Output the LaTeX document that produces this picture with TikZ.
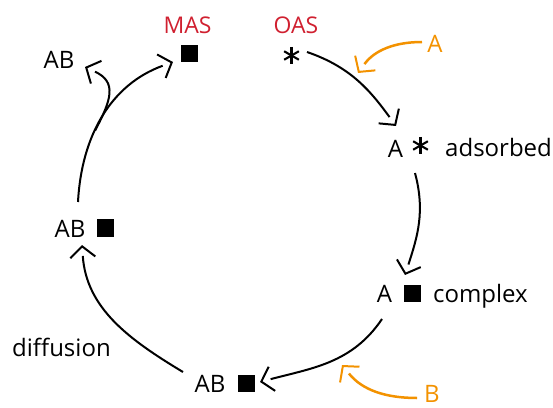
\documentclass[tikz,border=0pt]{standalone}
\usepackage{fontspec}
\setmainfont{Open Sans}
\usetikzlibrary{arrows.meta,decorations.markings}
\definecolor{casred}{RGB}{208,32,48}
\definecolor{casorange}{RGB}{243,146,0}
\tikzset{
  txt/.style={inner sep=0pt, font=\fontsize{24}{28}\selectfont},
  redtxt/.style={txt, text=casred, font=\fontsize{23}{28}\selectfont},
  ortxt/.style={txt, text=casorange},
  sq/.style={fill=black, minimum size=17pt, inner sep=0pt},
  astk/.style={minimum size=19pt, inner sep=0pt, path picture={
      \draw[line width=2.1pt] (path picture bounding box.center) ++(90:8.5pt) -- ++(270:17pt);
      \draw[line width=2.1pt] (path picture bounding box.center) ++(30:8.5pt) -- ++(210:17pt);
      \draw[line width=2.1pt] (path picture bounding box.center) ++(150:8.5pt) -- ++(330:17pt);}},
  conn/.style={line width=2pt, draw=#1, shorten >=11pt, postaction={decorate},
    decoration={markings, mark=at position 0.9999 with {\arrow[#1, line width=2pt]{Straight Barb[length=11pt,width=25pt]}}}},
  conn/.default=black,
  oconn/.style={conn=casorange, line width=2.5pt},
}
\begin{document}
\begin{tikzpicture}[x=1pt,y=1pt]
\useasboundingbox (0,0) rectangle (553,407);
% labels
\node[redtxt] (masT) at (187.5,381.5) {MAS};
\node[redtxt] (oasT) at (296,381.5) {OAS};
\node[sq] (masSq) at (189.5,353) {};
\node[astk] (oasSt) at (291.5,351.5) {};
\node[txt] (abTop) at (59,347) {AB};
\node[txt] (aAds) at (395.5,258.5) {A};
\node[astk] (stAds) at (420.5,261.5) {};
\node[txt, anchor=base west] (ads) at (445,250) {adsorbed};
\node[txt] (aCx) at (384.5,113.5) {A};
\node[sq] (sqCx) at (412,113.5) {};
\node[txt, anchor=base west] (cx) at (433,105) {complex};
\node[txt] (abBot) at (210,23.5) {AB};
\node[sq] (sqBot) at (246,23.5) {};
\node[txt] (abLeft) at (70,178.5) {AB};
\node[sq] (sqLeft) at (105,179) {};
\node[txt, anchor=base west] (diff) at (12,51) {diffusion};
\node[ortxt] (oA) at (435,363) {A};
\node[ortxt] (oB) at (432,13) {B};
% connector ends
\coordinate (s1) at (307,355);
\coordinate (e1) at (396,281);
\coordinate (s2) at (415,234);
\coordinate (e2) at (405,132);
\coordinate (s3) at (382,88);
\coordinate (e3) at (260,25);
\coordinate (s4) at (183,35);
\coordinate (e4) at (82,162);
\coordinate (s5) at (78,205);
\coordinate (e5) at (173,345);
\coordinate (e6) at (85,340);
\coordinate (s7) at (422,365);
\coordinate (e7) at (358,334);
\coordinate (s8) at (417,9);
\coordinate (e8) at (342,42);
% cycle
\draw[conn] (s1) to[out=-19,in=126] (e1);
\draw[conn] (s2) to[out=-75,in=72] (e2);
\draw[conn] (s3) to[out=-124,in=15] (e3);
\draw[conn] (s4) to[out=149,in=-86] (e4);
\draw[conn] (s5) to[out=87,in=200] coordinate[pos=0.40] (br) (e5);
\draw[conn] (br) to[out=62,in=-25,looseness=1.4] (e6);
% reactants
\draw[oconn] (s7) to[out=180,in=54] (e7);
\draw[oconn] (s8) to[out=180,in=-51] (e8);
\end{tikzpicture}
\end{document}
